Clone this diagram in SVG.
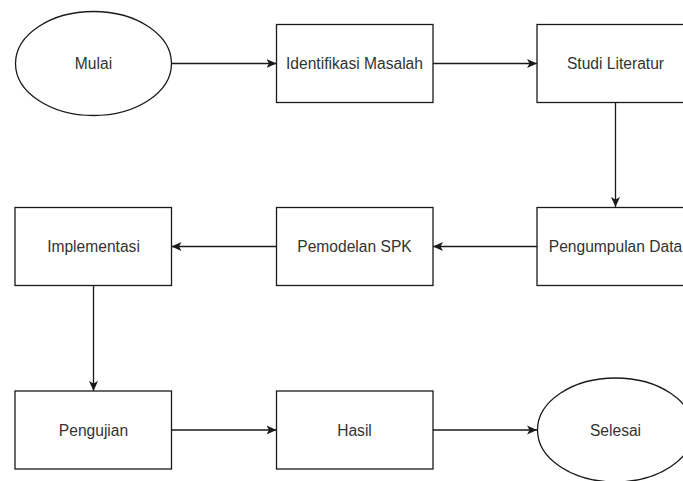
<svg xmlns="http://www.w3.org/2000/svg" width="683" height="481" viewBox="0 0 683 481">
<defs>
<marker id="arr" viewBox="0 0 10 10" refX="10" refY="5" markerWidth="10" markerHeight="10" markerUnits="userSpaceOnUse" orient="auto">
<path d="M0,0.5 L10,5 L0,9.5 L2.5,5 Z" fill="#1a1a1a"/>
</marker>
<style>
.box{fill:#fff;stroke:#1a1a1a;stroke-width:1.3}
.lbl{font-family:"Liberation Sans",Arial,sans-serif;font-size:15.6px;fill:#333;text-anchor:middle;dominant-baseline:central}
.edge{fill:none;stroke:#1a1a1a;stroke-width:1.3;marker-end:url(#arr)}
</style>
</defs>
<rect width="683" height="481" fill="#fff"/>
<g id="connectors">
<path class="edge" d="M171.5,63.5 H276.5"/>
<path class="edge" d="M433,63.5 H537"/>
<path class="edge" d="M615.5,102.5 V207"/>
<path class="edge" d="M537,246.5 H433"/>
<path class="edge" d="M276.5,246.5 H171.5"/>
<path class="edge" d="M93.5,286 V391"/>
<path class="edge" d="M171.5,430 H276.5"/>
<path class="edge" d="M433,430 H537"/>
</g>
<g id="mulai"><ellipse class="box" cx="93.5" cy="63.5" rx="78" ry="52"/><text class="lbl" x="93.5" y="63.5">Mulai</text></g>
<g id="identifikasi"><rect class="box" x="276.5" y="24.5" width="156.5" height="78"/><text class="lbl" x="354.5" y="63.5">Identifikasi Masalah</text></g>
<g id="studi"><rect class="box" x="537" y="24.5" width="156.5" height="78"/><text class="lbl" x="615.5" y="63.5">Studi Literatur</text></g>
<g id="pengumpulan"><rect class="box" x="537" y="207.5" width="156.5" height="78"/><text class="lbl" x="615.5" y="246.5">Pengumpulan Data</text></g>
<g id="pemodelan"><rect class="box" x="276.5" y="207.5" width="156.5" height="78"/><text class="lbl" x="354.5" y="246.5">Pemodelan SPK</text></g>
<g id="implementasi"><rect class="box" x="15" y="207.5" width="156.5" height="78"/><text class="lbl" x="93.5" y="246.5">Implementasi</text></g>
<g id="pengujian"><rect class="box" x="15" y="391" width="156.5" height="78"/><text class="lbl" x="93.5" y="430">Pengujian</text></g>
<g id="hasil"><rect class="box" x="276.5" y="391" width="156.5" height="78"/><text class="lbl" x="354.5" y="430">Hasil</text></g>
<g id="selesai"><ellipse class="box" cx="615.5" cy="430" rx="78" ry="52"/><text class="lbl" x="615.5" y="430">Selesai</text></g>
</svg>
